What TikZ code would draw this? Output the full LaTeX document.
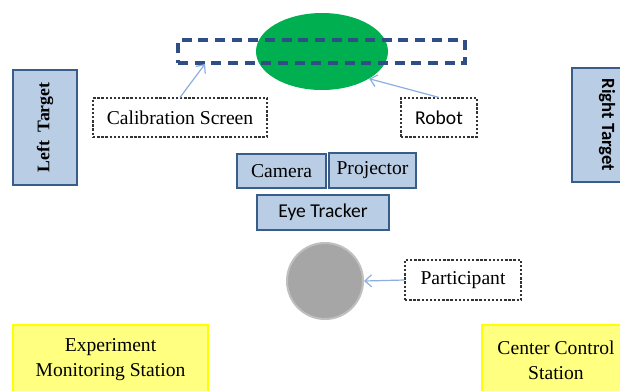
\documentclass[tikz,border=0pt]{standalone}
\usepackage{fontspec}
\setmainfont{Liberation Serif}
\newfontfamily\calibri{Carlito}
\usetikzlibrary{shapes.geometric,arrows.meta}
\definecolor{boxfill}{HTML}{B9CDE5}
\definecolor{boxline}{HTML}{385D8A}
\definecolor{scrline}{HTML}{2E4F86}
\definecolor{robgreen}{HTML}{00B050}
\definecolor{arrblue}{HTML}{8BAEDF}
\definecolor{stfill}{HTML}{FFFF80}
\definecolor{stline}{HTML}{FFFF00}
\tikzset{
	txt/.style={font=\fontsize{14.7}{18.75}\selectfont},
	device/.style={txt,draw=boxline,fill=boxfill,line width=1.9pt,inner sep=0pt},
	note/.style={txt,draw=black!80,line width=0.85pt,dash pattern=on 1.8pt off 1.3pt,inner sep=0pt},
	station/.style={txt,draw=stline,fill=stfill,line width=2.2pt,inner sep=0pt,align=center},
	pointer/.style={draw=arrblue,line width=0.9pt,-{Straight Barb[length=5pt,width=9pt]}}
}

\begin{document}
\begin{tikzpicture}[x=0.75pt,y=-0.75pt]
			\useasboundingbox (0,0) rectangle (620,390);
			\clip (0,0) rectangle (620,390);
			\node[ellipse,fill=robgreen,inner sep=0pt,minimum width=99pt,minimum height=57.75pt] (robot) at (322,51.5) {};
			\node[draw=scrline,line width=2.5pt,dash pattern=on 7.5pt off 5pt,inner sep=0pt,minimum width=215.25pt,minimum height=17.25pt] (screen) at (321.5,51.5) {};
			\coordinate (scrpt) at (205,64);
			\node[note,minimum width=130.5pt,minimum height=29.25pt] (calib) at (180,117.5) {Calibration Screen};
			\node[note,font=\calibri\fontsize{14.7}{18.75}\selectfont,minimum width=57pt,minimum height=29.25pt] (robotlbl) at (439,117.5) {Robot};
			\node[device,rotate=90,font=\bfseries\fontsize{13.3}{16}\selectfont,minimum width=86.25pt,minimum height=48pt] (left) at (45,127.5) {Left\ \ Target};
			\node[device,rotate=-90,font=\calibri\bfseries\fontsize{14}{16}\selectfont,minimum width=85.5pt,minimum height=52.5pt] (right) at (607,125) {Right Target};
			\node[device,minimum width=66.75pt,minimum height=25.5pt] (camera) at (281.5,171) {Camera};
			\node[device,minimum width=65.25pt,minimum height=26.25pt] (projector) at (372.5,170.5) {Projector};
			\node[device,font=\calibri\fontsize{14.7}{18.75}\selectfont,minimum width=99pt,minimum height=26.25pt] (tracker) at (323,212.5) {Eye Tracker};
			\node[circle,fill=black!35,draw=black!25,line width=1.5pt,minimum size=57pt,inner sep=0pt] (head) at (325,281) {};
			\node[note,minimum width=87pt,minimum height=30pt] (partlbl) at (463,280) {Participant};
			\node[station,minimum width=146.25pt,minimum height=52.5pt] (monitor) at (110.5,360) {Experiment\\Monitoring Station};
			\node[station,minimum width=111pt,minimum height=52.5pt] (control) at (556,360) {Center Control\\Station};
			\draw[pointer] (calib.north) -- (scrpt);
			\draw[pointer] (robotlbl.north) -- (robot.-30);
			\draw[pointer] (partlbl.west) -- (head.east);
		\end{tikzpicture}
\end{document}
